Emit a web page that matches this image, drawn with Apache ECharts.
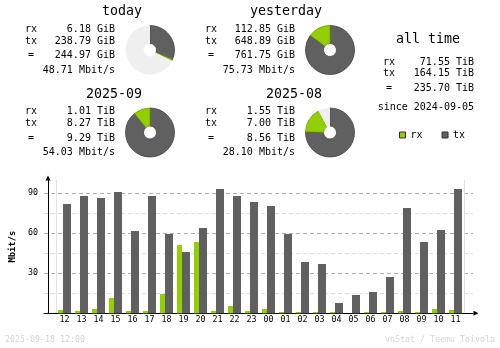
<!DOCTYPE html>
<html>
<head>
<meta charset="utf-8">
<script src="https://cdn.jsdelivr.net/npm/echarts@6/dist/echarts.min.js"></script>
<style>
  html, body { margin: 0; padding: 0; background: #ffffff; }
  #chart { width: 500px; height: 348px; }
</style>
</head>
<body>
<div id="chart"></div>
<script>
// Hourly average rates over the last 24 hours (Mbit/s)
const hours = ['12','13','14','15','16','17','18','19','20','21','22','23',
               '00','01','02','03','04','05','06','07','08','09','10','11'];
const rxRate = [2.5, 1.75, 3.25, 11.5, 1.75, 1.75, 14.5, 51.25, 53.5, 1.75, 5.5, 1.75,
                3.25, 1, 1, 1, 1, 0, 1, 1, 1.75, 1, 3.25, 2.5];
const txRate = [82, 88, 86.5, 91, 61.75, 88, 59.5, 46, 64, 93.25, 88, 83.5,
                80.5, 59.5, 38.5, 37, 7.75, 13.75, 16, 27.25, 79, 53.5, 62.5, 93.25];

// Summary blocks: today, yesterday, this month, previous month
const periodTitles = ['today', 'yesterday', '2025-09', '2025-08'];
const periodUnits  = ['GiB', 'GiB', 'TiB', 'TiB'];
const periodRx     = [6.18, 112.85, 1.01, 1.55];
const periodTx     = [238.79, 648.89, 8.27, 7.00];
const periodTotal  = [244.97, 761.75, 9.29, 8.56];
const periodRate   = [48.71, 75.73, 54.03, 28.10];

// All time totals (TiB)
const allTimeRx = 71.55;
const allTimeTx = 164.15;
const allTimeTotal = 235.70;
const allTimeSince = '2024-09-05';

const footerDate = '2025-09-18 12:00';
const footerCredit = 'vnStat / Teemu Toivola';

const RX = '#92cf00';
const TX = '#606060';
const MONO = '"DejaVu Sans Mono", "Liberation Mono", monospace';
const SMALL = 10, LARGE = 13.3, TINY = 8.3;

const chart = echarts.init(document.getElementById('chart'), null, { renderer: 'canvas' });

function txt(text, x, y, size, align, fill, weight) {
  return {
    type: 'text', x: x, y: y, silent: true,
    style: {
      text: text, fontFamily: MONO, fontSize: size, fontWeight: weight || 'normal',
      fill: fill || '#000', align: align || 'left', verticalAlign: 'middle'
    }
  };
}

const graphics = [];
const pies = [];
periodTitles.forEach(function (title, i) {
  const ox = (i % 2) * 180;
  const oy = Math.floor(i / 2) * 82.5;
  const u = periodUnits[i];
  graphics.push(txt(title, 142 + ox, 12 + oy, LARGE, 'right'));
  graphics.push(txt('rx', 25 + ox, 29 + oy, SMALL));
  graphics.push(txt('tx', 25 + ox, 41 + oy, SMALL));
  graphics.push(txt('=', 31 + ox, 55.5 + oy, SMALL, 'center'));
  graphics.push(txt(periodRx[i].toFixed(2) + ' ' + u, 115 + ox, 29 + oy, SMALL, 'right'));
  graphics.push(txt(periodTx[i].toFixed(2) + ' ' + u, 115 + ox, 41 + oy, SMALL, 'right'));
  graphics.push(txt(periodTotal[i].toFixed(2) + ' ' + u, 115 + ox, 55.5 + oy, SMALL, 'right'));
  graphics.push(txt(periodRate[i].toFixed(2) + ' Mbit/s', 115 + ox, 70 + oy, SMALL, 'right'));

  // pies of each pair are scaled against the larger total of the pair
  const pair = Math.floor(i / 2) * 2;
  const full = Math.max(periodRx[pair] + periodTx[pair], periodRx[pair + 1] + periodTx[pair + 1]);
  const rest = Math.max(0, full - periodRx[i] - periodTx[i]);
  pies.push({
    type: 'pie', silent: true, animation: false,
    center: [150 + ox, 50 + oy], radius: [6.5, 24.5],
    startAngle: 90, clockwise: true, avoidLabelOverlap: false,
    label: { show: false }, labelLine: { show: false },
    emphasis: { disabled: true },
    data: [
      { value: periodTx[i], itemStyle: { color: TX, borderColor: '#444444', borderWidth: 0.8 } },
      { value: periodRx[i], itemStyle: { color: RX, borderColor: '#6e9c00', borderWidth: 0.8 } },
      { value: rest, itemStyle: { color: '#efefef', borderWidth: 0 } }
    ]
  });
});

// all time block
graphics.push(txt('all time', 460, 40, LARGE, 'right'));
graphics.push(txt('rx', 383, 62, SMALL));
graphics.push(txt('tx', 383, 73.5, SMALL));
graphics.push(txt('=', 389, 88, SMALL, 'center'));
graphics.push(txt(allTimeRx.toFixed(2) + ' TiB', 474, 62, SMALL, 'right'));
graphics.push(txt(allTimeTx.toFixed(2) + ' TiB', 474, 73.5, SMALL, 'right'));
graphics.push(txt(allTimeTotal.toFixed(2) + ' TiB', 474, 88, SMALL, 'right'));
graphics.push(txt('since ' + allTimeSince, 474, 107.5, SMALL, 'right'));

// footer
graphics.push(txt(footerDate, 5, 340, TINY, 'left', '#d4d4d4'));
graphics.push(txt(footerCredit, 495, 340, TINY, 'right', '#d4d4d4'));

const gridTop = 180, gridBottom = 34.67;
const axisFont = { fontFamily: MONO, fontSize: TINY, color: '#000' };

const option = {
  backgroundColor: '#ffffff',
  animation: false,
  graphic: graphics,
  legend: {
    left: 399, top: 130, padding: 0, itemWidth: 6, itemHeight: 6, itemGap: 19,
    icon: 'rect', selectedMode: false,
    itemStyle: { borderColor: '#303030', borderWidth: 1 },
    textStyle: { fontFamily: MONO, fontSize: SMALL, color: '#000' },
    data: ['rx', 'tx']
  },
  grid: [
    { left: 56, right: 36, top: gridTop, bottom: gridBottom },
    { left: 44, right: 27, top: gridTop, bottom: gridBottom }
  ],
  xAxis: [
    {
      gridIndex: 0, type: 'category', data: hours, boundaryGap: true,
      axisLine: { show: false }, axisTick: { show: false },
      axisLabel: Object.assign({ interval: 0, margin: 3 }, axisFont),
      splitLine: {
        show: true,
        interval: function (idx, val) { return val === '00'; },
        lineStyle: { color: '#e2e2e2', width: 1, type: 'solid' }
      }
    },
    {
      gridIndex: 1, type: 'value', min: 0, max: 1,
      axisLine: { show: true, onZero: false, lineStyle: { color: '#000', width: 1 },
                  symbol: ['none', 'triangle'], symbolSize: [5, 5], symbolOffset: [0, 3] },
      axisTick: { show: false }, axisLabel: { show: false }, splitLine: { show: false }
    }
  ],
  yAxis: [
    {
      gridIndex: 0, type: 'value', min: 0, max: 100, interval: 30, offset: 8,
      axisLine: { show: true, lineStyle: { color: '#000', width: 1 },
                  symbol: ['none', 'triangle'], symbolSize: [5, 5], symbolOffset: [0, 2] },
      axisTick: { show: false },
      axisLabel: Object.assign({ showMinLabel: false, showMaxLabel: false, margin: 10 }, axisFont),
      splitLine: { show: false },
      name: 'Mbit/s', nameLocation: 'middle', nameRotate: 90, nameGap: 29,
      nameTextStyle: { fontFamily: MONO, fontSize: 8.8, fontWeight: 'bold', color: '#000' }
    },
    {
      gridIndex: 1, type: 'value', min: 0, max: 100, interval: 15, position: 'left',
      axisLine: { show: false }, axisTick: { show: false }, axisLabel: { show: false },
      splitLine: { show: true, showMinLine: false, showMaxLine: false,
                   lineStyle: { color: '#e0e0e0', width: 1, type: [4, 3] } }
    },
    {
      gridIndex: 1, type: 'value', min: 0, max: 100, interval: 30, position: 'left',
      axisLine: { show: false }, axisTick: { show: false }, axisLabel: { show: false },
      splitLine: { show: true, showMinLine: false, showMaxLine: false,
                   lineStyle: { color: '#b0b0b0', width: 1, type: [4, 3] } }
    }
  ],
  series: [
    {
      name: 'rx', type: 'bar', xAxisIndex: 0, yAxisIndex: 0, data: rxRate,
      barWidth: 5, barGap: '0%', silent: true, itemStyle: { color: RX }
    },
    {
      name: 'tx', type: 'bar', xAxisIndex: 0, yAxisIndex: 0, data: txRate,
      barWidth: 8, barGap: '0%', silent: true, itemStyle: { color: TX }
    }
  ].concat(pies)
};

chart.setOption(option);
</script>
</body>
</html>
